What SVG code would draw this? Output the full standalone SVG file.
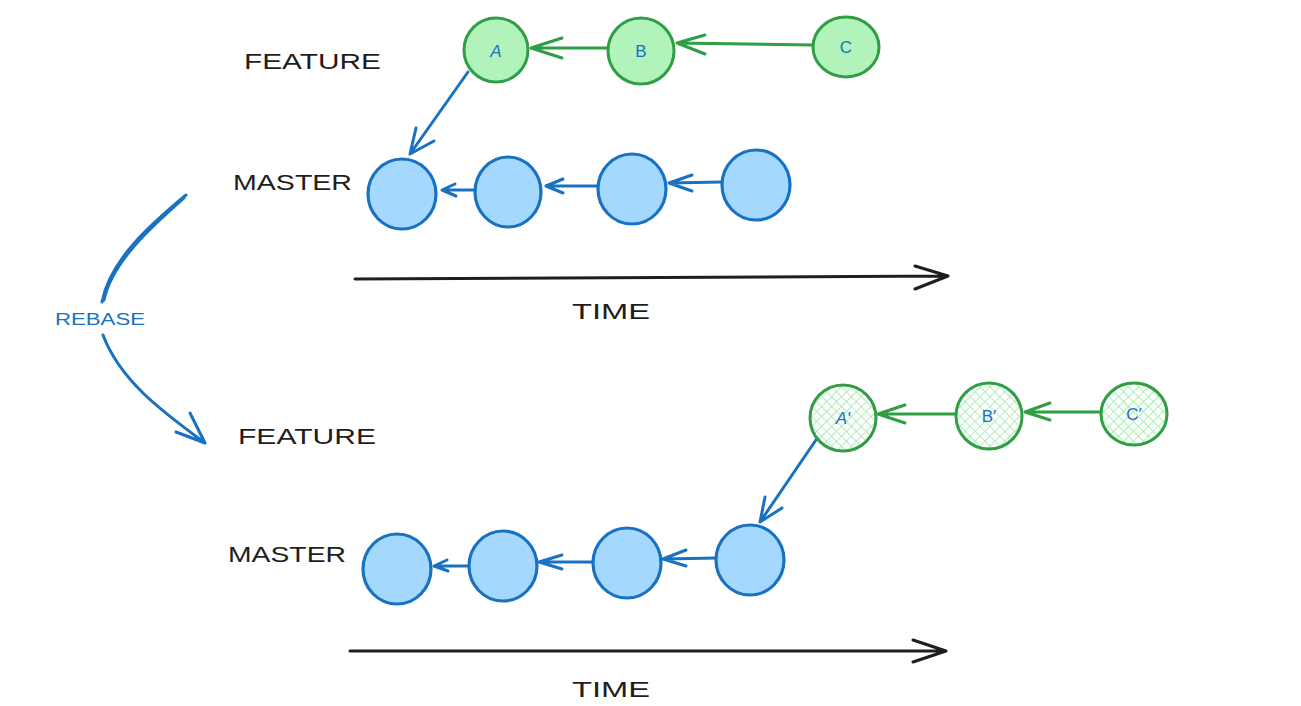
<svg xmlns="http://www.w3.org/2000/svg" width="1301" height="706" viewBox="0 0 1301 706">
<defs>
<style>
.lbl{font-family:"Liberation Sans","DejaVu Sans",sans-serif;font-size:22px;fill:#1e1e1e;dominant-baseline:central}
.ltr{font-family:"Liberation Sans","DejaVu Sans",sans-serif;font-size:17px;fill:#1971c2;text-anchor:middle;dominant-baseline:central}
.it{font-style:italic}
.blue{fill:#a5d8ff;stroke:#1971c2;stroke-width:3.2}
.green{fill:#b2f2bb;stroke:#2f9e44;stroke-width:3}
.hatch{fill:url(#hatch);stroke:#2f9e44;stroke-width:3}
.cb{stroke:#1971c2;stroke-width:3;fill:none;stroke-linecap:round;stroke-linejoin:round}
.cg{stroke:#2f9e44;stroke-width:3;fill:none;stroke-linecap:round;stroke-linejoin:round}
.ck{stroke:#1e1e1e;stroke-width:3;fill:none;stroke-linecap:round;stroke-linejoin:round}
</style>
<pattern id="hatch" width="7" height="7" patternUnits="userSpaceOnUse" patternTransform="rotate(45)">
<rect width="7" height="7" fill="#ffffff"/>
<line x1="0" y1="0" x2="0" y2="7" stroke="#a6ecb0" stroke-width="1.8"/>
<line x1="0" y1="0" x2="7" y2="0" stroke="#a6ecb0" stroke-width="1.8"/>
</pattern>
</defs>
<rect width="1301" height="706" fill="#ffffff"/>

<g id="connectors">
<path class="cg" d="M813,45 L677,43 M705,35 L677,43 L705,54"/>
<path class="cg" d="M607,48 L531,48 M562,38 L531,48 L562,58"/>
<path class="cb" d="M468,72 L410,154 M416,128 L410,154 L434,141"/>
<path class="cb" d="M474,190 L442,190 M455,184 L442,190 L456,196"/>
<path class="cb" d="M598,186 L546,186 M563,179 L546,186 L563,193"/>
<path class="cb" d="M722,182 L669,183 M692,175 L669,183 L692,191"/>
<path class="ck" d="M355,279 L948,276 M915,266 L948,276 L915,289"/>
<path class="cb" d="M186,195 C150,225 110,260 102,302 M184,198 C150,228 112,262 104,300"/>
<path class="cb" d="M103,335 C120,380 160,410 205,443 M176,432 L205,443 L190,413"/>
<path class="cg" d="M1101,412 L1025,412 M1050,403 L1025,412 L1050,420"/>
<path class="cg" d="M955,414 L878,414 M905,405 L878,414 L905,423"/>
<path class="cb" d="M818,437 L760,522 M765,497 L760,522 L782,508"/>
<path class="cb" d="M468,566 L434,566 M447,560 L434,566 L448,571"/>
<path class="cb" d="M593,562 L539,562 M562,555 L539,562 L562,569"/>
<path class="cb" d="M717,558 L663,559 M686,550 L663,559 L686,566"/>
<path class="ck" d="M350,651 L946,651 M913,640 L946,651 L913,662"/>
</g>

<g id="labels">
<text class="lbl" x="244" y="61" textLength="137" lengthAdjust="spacingAndGlyphs">FEATURE</text>
<text class="lbl" x="233" y="182" textLength="119" lengthAdjust="spacingAndGlyphs">MASTER</text>
<text class="lbl" x="572" y="311" textLength="78" lengthAdjust="spacingAndGlyphs">TIME</text>
<text class="lbl" x="55" y="319" textLength="90" lengthAdjust="spacingAndGlyphs" style="font-size:16px;fill:#1971c2">REBASE</text>
<text class="lbl" x="238" y="436" textLength="138" lengthAdjust="spacingAndGlyphs">FEATURE</text>
<text class="lbl" x="228" y="554" textLength="118" lengthAdjust="spacingAndGlyphs">MASTER</text>
<text class="lbl" x="572" y="689" textLength="78" lengthAdjust="spacingAndGlyphs">TIME</text>
</g>

<g id="node-A"><circle class="green" cx="496" cy="50" r="32"/><text class="ltr it" x="496" y="51">A</text></g>
<g id="node-B"><circle class="green" cx="641" cy="51" r="33"/><text class="ltr" x="641" y="51">B</text></g>
<g id="node-C"><ellipse class="green" cx="846" cy="47" rx="33" ry="30"/><text class="ltr" x="846" y="47">C</text></g>

<g id="node-m1"><ellipse class="blue" cx="402" cy="194" rx="34" ry="35"/></g>
<g id="node-m2"><ellipse class="blue" cx="508" cy="192" rx="33" ry="35"/></g>
<g id="node-m3"><ellipse class="blue" cx="632" cy="189" rx="34" ry="35"/></g>
<g id="node-m4"><ellipse class="blue" cx="756" cy="185" rx="34" ry="35"/></g>

<g id="node-A2"><circle class="hatch" cx="843" cy="418" r="33"/><text class="ltr it" x="843" y="418">A′</text></g>
<g id="node-B2"><circle class="hatch" cx="989" cy="416" r="33"/><text class="ltr" x="989" y="416">B′</text></g>
<g id="node-C2"><ellipse class="hatch" cx="1134" cy="414" rx="33" ry="31"/><text class="ltr" x="1134" y="414">C′</text></g>

<g id="node-n1"><ellipse class="blue" cx="397" cy="569" rx="34" ry="35"/></g>
<g id="node-n2"><ellipse class="blue" cx="503" cy="566" rx="34" ry="35"/></g>
<g id="node-n3"><ellipse class="blue" cx="627" cy="563" rx="34" ry="35"/></g>
<g id="node-n4"><ellipse class="blue" cx="750" cy="560" rx="34" ry="35"/></g>
</svg>
